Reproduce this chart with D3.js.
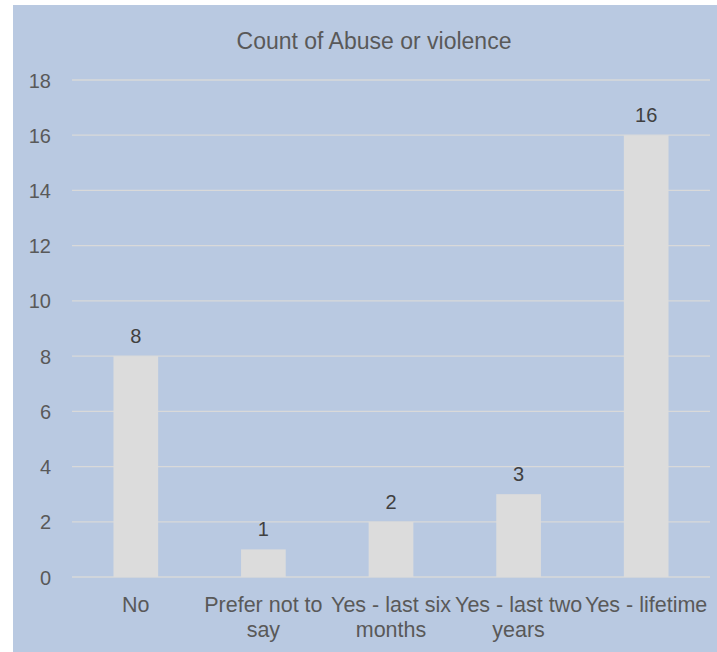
<!DOCTYPE html>
<html><head><meta charset="utf-8">
<script src="https://cdn.jsdelivr.net/npm/d3@7"></script>
<style>html,body{margin:0;padding:0;background:#fff;}svg{display:block;}</style>
</head><body>
<script>
const categories = [["No"], ["Prefer not to","say"], ["Yes - last six","months"], ["Yes - last two","years"], ["Yes - lifetime"]];
const values = [8, 1, 2, 3, 16];
const yTicks = [0, 2, 4, 6, 8, 10, 12, 14, 16, 18];
const title = "Count of Abuse or violence";

const W = 717, H = 652;
const svg = d3.select("body").append("svg").attr("width", W).attr("height", H);
const font = "Arial, 'Liberation Sans', sans-serif";

svg.append("rect").attr("x", 13).attr("y", 5).attr("width", W - 13).attr("height", H - 5).attr("fill", "#b9c9e1");

const x = d3.scaleBand().domain(d3.range(categories.length)).range([72, 710]).paddingInner(0.65).paddingOuter(0.325);
const y = d3.scaleLinear().domain([0, 18]).range([577, 80]);

// gridlines
svg.append("g").selectAll("line").data(yTicks).join("line")
  .attr("x1", 72).attr("x2", 710).attr("y1", d => y(d)).attr("y2", d => y(d))
  .attr("stroke", "#d9d9d9").attr("stroke-width", 1.3);

// y labels
const yAxis = d3.axisLeft(y).tickValues(yTicks).tickSize(0).tickPadding(0);
const ga = svg.append("g").attr("transform", "translate(51,0)").call(yAxis);
ga.select(".domain").remove();
ga.selectAll("text").attr("font-family", font).attr("font-size", 20).attr("fill", "#595959").attr("dy", "0.35em");

// bars
svg.append("g").selectAll("rect").data(values).join("rect")
  .attr("x", (d, i) => x(i)).attr("width", x.bandwidth())
  .attr("y", d => y(d)).attr("height", d => y(0) - y(d))
  .attr("fill", "#dcdcdc");

// value labels
svg.append("g").selectAll("text").data(values).join("text")
  .attr("x", (d, i) => x(i) + x.bandwidth() / 2).attr("y", d => y(d) - 13)
  .attr("text-anchor", "middle").attr("font-family", font).attr("font-size", 20).attr("fill", "#404040")
  .text(d => d);

// category labels
const cg = svg.append("g").selectAll("text").data(categories).join("text")
  .attr("x", (d, i) => x(i) + x.bandwidth() / 2).attr("y", 612)
  .attr("text-anchor", "middle").attr("font-family", font).attr("font-size", 21.5).attr("fill", "#595959");
cg.selectAll("tspan").data(d => d).join("tspan")
  .attr("x", function() { return this.parentNode.getAttribute("x"); })
  .attr("dy", (d, i) => i === 0 ? 0 : 25).text(d => d);

svg.append("text").attr("x", 374).attr("y", 49).attr("text-anchor", "middle")
  .attr("font-family", font).attr("font-size", 23).attr("fill", "#595959").text(title);
</script>
</body></html>
